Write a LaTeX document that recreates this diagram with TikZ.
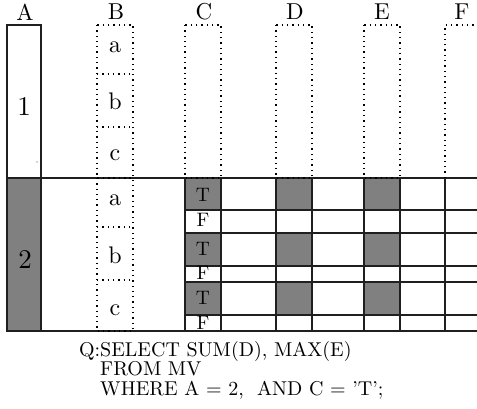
\documentclass[tikz,border=0pt]{standalone}
\usepackage{fontspec}
% one design size for every text size, so large text keeps the 10pt shapes
\setmainfont{lmroman10-regular.otf}
\begin{document}
\begin{tikzpicture}[x=1pt,y=-1pt,
  rule/.style={line width=1.9pt,draw=black!88},
  dots/.style={line width=1.4pt,draw=black,dash pattern=on 1.3pt off 4pt},
  cellfill/.style={fill=gray},
  head/.style={inner sep=0pt,font=\fontsize{23}{27}\selectfont},
  sub/.style={inner sep=0pt,font=\fontsize{24}{28}\selectfont},
  num/.style={inner sep=0pt,font=\fontsize{27}{31}\selectfont},
  flag/.style={inner sep=0pt,font=\fontsize{19.5}{22}\selectfont},
  query/.style={inner sep=0pt,anchor=base west,font=\fontsize{20}{23}\selectfont}]
\useasboundingbox (0,0) rectangle (477,409);

% shaded cells: value 2 of A and the T rows of C, D, E
\fill[cellfill] (7,178) rectangle (41,331);
\foreach \xa/\xb in {185/221,276/312,364/400}{
  \fill[cellfill] (\xa,178) rectangle (\xb,210);
  \fill[cellfill] (\xa,233) rectangle (\xb,266);
  \fill[cellfill] (\xa,282) rectangle (\xb,315);
}

% column A
\draw[rule] (7,25) rectangle (41,178);
\draw[rule] (7,178) rectangle (41,331);
\fill[black!70] (37,162) circle (0.7);

% lower band and its grid
\draw[rule] (7,178) -- (477,178);
\draw[rule] (7,331) -- (477,331);
\foreach \y in {210,233,266,282,315}
  \draw[rule] (185,\y) -- (477,\y);
\foreach \x in {185,221,276,312,364,400,445}
  \draw[rule] (\x,178) -- (\x,331);

% dotted columns
\draw[dots] (97,25) rectangle (133,178);
\draw[dots] (97,74) -- (133,74);
\draw[dots] (97,127) -- (133,127);
\draw[dots] (97,178) rectangle (133,331);
\draw[dots] (97,227) -- (133,227);
\draw[dots] (97,280) -- (133,280);
\draw[dots] (185,25) rectangle (221,178);
\draw[dots] (276,25) rectangle (312,178);
\draw[dots] (364,25) rectangle (400,178);
\draw[dots] (445,178) -- (445,25) -- (477,25);

% headers
\node[head] (hA) at (25,12) {A};
\node[head] (hB) at (116,12) {B};
\node[head] (hC) at (204,12) {C};
\node[head] (hD) at (295,12) {D};
\node[head] (hE) at (382,12) {E};
\node[head] (hF) at (462,12) {F};

% values of A
\node[num] (v1) at (24,107) {1};
\node[num] (v2) at (25,260) {2};

% values of B
\node[sub] (b1a) at (115,47) {a};
\node[sub] (b1b) at (115,101) {b};
\node[sub] (b1c) at (115,155) {c};
\node[sub] (b2a) at (115,200) {a};
\node[sub] (b2b) at (115,255) {b};
\node[sub] (b2c) at (115,310) {c};

% values of C
\node[flag] (t1) at (203,195) {T};
\node[flag] (f1) at (203,220) {F};
\node[flag] (t2) at (203,249) {T};
\node[flag] (f2) at (203,273) {F};
\node[flag] (t3) at (203,298) {T};
\node[flag] (f3) at (203,322.5) {F};

% query
\node[query] (q1) at (100,356) {\llap{Q:}SELECT SUM(D), MAX(E)};
\node[query] (q2) at (100,375.5) {FROM MV};
\node[query] (q3) at (100,395) {WHERE A = 2,~\ AND C = 'T';};
\end{tikzpicture}
\end{document}
